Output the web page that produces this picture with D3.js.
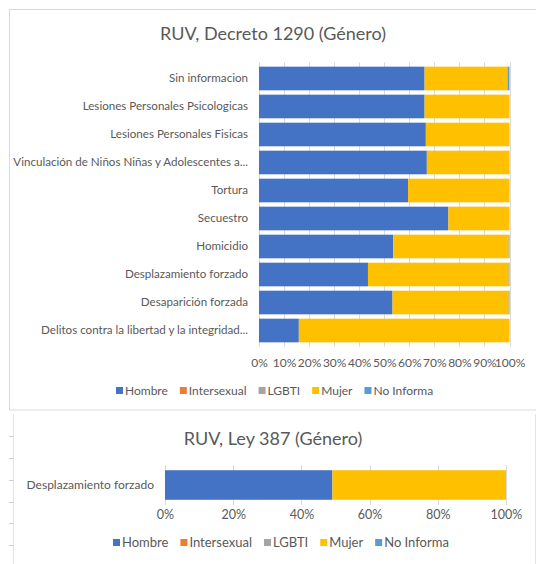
<!DOCTYPE html>
<html>
<head>
<meta charset="utf-8">
<script src="https://cdn.jsdelivr.net/npm/d3@7"></script>
<style>
  body { margin: 0; background: #fff; }
  svg { display: block; font-family: Lato, "Open Sans", sans-serif; }
</style>
</head>
<body>
<svg id="chart" width="536" height="564"></svg>
<script>
// data (percent of each row)
const categories = [
  "Sin informacion",
  "Lesiones Personales Psicologicas",
  "Lesiones Personales Fisicas",
  "Vinculación de Niños Niñas y Adolescentes a...",
  "Tortura",
  "Secuestro",
  "Homicidio",
  "Desplazamiento forzado",
  "Desaparición forzada",
  "Delitos contra la libertad y la integridad..."
];
const hombre      = [66.1, 66.1, 66.6, 67.0, 59.5, 75.6, 53.6, 43.5, 53.3, 15.9];
const intersexual = [0, 0, 0, 0, 0, 0, 0, 0, 0, 0];
const lgbti       = [0, 0, 0, 0, 0, 0, 0, 0, 0, 0];
const mujer       = [33.1, 33.9, 33.4, 33.0, 40.5, 24.4, 46.1, 56.2, 46.4, 84.1];
const noInforma   = [0.8, 0, 0, 0, 0, 0, 0.3, 0.3, 0.3, 0];

const categories2  = ["Desplazamiento forzado"];
const hombre2      = [49.1];
const intersexual2 = [0];
const lgbti2       = [0];
const mujer2       = [50.9];
const noInforma2   = [0];

const seriesNames = ["Hombre", "Intersexual", "LGBTI", "Mujer", "No Informa"];
const ticks1 = [0, 10, 20, 30, 40, 50, 60, 70, 80, 90, 100];
const ticks2 = [0, 20, 40, 60, 80, 100];

const colors = ["#4472C4", "#ED7D31", "#A5A5A5", "#FFC000", "#5B9BD5"];
const textColor = "#595959";
const gridColor = "#d9d9d9";

const svg = d3.select("#chart");

// frames
svg.append("rect")
  .attr("x", 9.5).attr("y", 9.5)
  .attr("width", 540).attr("height", 400.5)
  .attr("fill", "none").attr("stroke", gridColor);

svg.append("line")
  .attr("x1", 13.5).attr("x2", 13.5).attr("y1", 414).attr("y2", 564)
  .attr("stroke", "#e3e3e3");
svg.append("line")
  .attr("x1", 535.5).attr("x2", 535.5).attr("y1", 414).attr("y2", 564)
  .attr("stroke", "#e3e3e3");
svg.selectAll(".sidetick")
  .data([436, 458, 480, 502, 523, 545])
  .enter().append("line")
  .attr("x1", 9).attr("x2", 13.5)
  .attr("y1", (d) => d + 0.5).attr("y2", (d) => d + 0.5)
  .attr("stroke", "#cfcfcf");

function drawChart(opt) {
  const { title, titleY, cats, values, x0, x1, y0, y1, padding, ticks, tickY, tickSize,
          legendY, legendX, legendSize, legendGap, labelSize } = opt;

  const rows = cats.map((c, i) => {
    const r = { cat: c };
    seriesNames.forEach((s, j) => (r[s] = values[j][i]));
    return r;
  });
  const stacked = d3.stack().keys(seriesNames)(rows);

  const xScale = d3.scaleLinear().domain([0, 100]).range([x0, x1]);
  const yScale = d3.scaleBand().domain(cats).range([y0, y1]).padding(padding);

  svg.append("text")
    .attr("x", 273).attr("y", titleY)
    .attr("text-anchor", "middle")
    .attr("fill", textColor)
    .attr("font-size", 18)
    .text(title);

  // gridlines
  svg.append("g")
    .selectAll("line")
    .data(ticks)
    .enter().append("line")
    .attr("x1", (d) => Math.round(xScale(d)) + 0.5)
    .attr("x2", (d) => Math.round(xScale(d)) + 0.5)
    .attr("y1", y0).attr("y2", y1)
    .attr("stroke", gridColor);

  svg.append("g")
    .selectAll("g")
    .data(stacked)
    .enter().append("g")
    .attr("fill", (d, i) => colors[i])
    .selectAll("rect")
    .data((d) => d)
    .enter().append("rect")
    .attr("x", (d) => xScale(d[0]))
    .attr("width", (d) => xScale(d[1]) - xScale(d[0]))
    .attr("y", (d) => yScale(d.data.cat))
    .attr("height", yScale.bandwidth());

  // category labels
  const yAxis = svg.append("g")
    .attr("transform", `translate(${x0 - 4},0)`)
    .call(d3.axisLeft(yScale).tickSize(0).tickPadding(7));
  yAxis.select(".domain").remove();
  yAxis.selectAll("text")
    .attr("fill", textColor)
    .attr("font-size", labelSize)
    .attr("font-family", "Lato, 'Open Sans', sans-serif");

  // value axis
  const xAxis = svg.append("g")
    .attr("transform", `translate(0,${tickY})`)
    .call(d3.axisBottom(xScale).tickValues(ticks).tickFormat((d) => d + "%").tickSize(0));
  xAxis.select(".domain").remove();
  xAxis.selectAll("text")
    .attr("fill", textColor)
    .attr("font-size", tickSize)
    .attr("font-family", "Lato, 'Open Sans', sans-serif");

  // legend
  const legend = svg.append("g").attr("transform", `translate(0,${legendY})`);
  let lx = legendX;
  seriesNames.forEach((s, i) => {
    legend.append("rect")
      .attr("x", lx).attr("y", -4)
      .attr("width", 7).attr("height", 7)
      .attr("fill", colors[i]);
    const t = legend.append("text")
      .attr("x", lx + 9).attr("y", 4)
      .attr("fill", textColor)
      .attr("font-size", legendSize)
      .text(s);
    lx += 9 + t.node().getComputedTextLength() + legendGap;
  });
}

drawChart({
  title: "RUV, Decreto 1290 (Género)",
  titleY: 40,
  cats: categories,
  values: [hombre, intersexual, lgbti, mujer, noInforma],
  x0: 259, x1: 509.5, y0: 62.3, y1: 346.7,
  padding: 0.156,
  ticks: ticks1,
  tickY: 355,
  tickSize: 12,
  legendY: 391,
  legendX: 116,
  legendSize: 12,
  legendGap: 12,
  labelSize: 11.6
});

drawChart({
  title: "RUV, Ley 387 (Género)",
  titleY: 445,
  cats: categories2,
  values: [hombre2, intersexual2, lgbti2, mujer2, noInforma2],
  x0: 165, x1: 506, y0: 465, y1: 505,
  padding: 0.15,
  ticks: ticks2,
  tickY: 507,
  tickSize: 12.5,
  legendY: 543,
  legendX: 113,
  legendSize: 13,
  legendGap: 12,
  labelSize: 12
});
</script>
</body>
</html>
